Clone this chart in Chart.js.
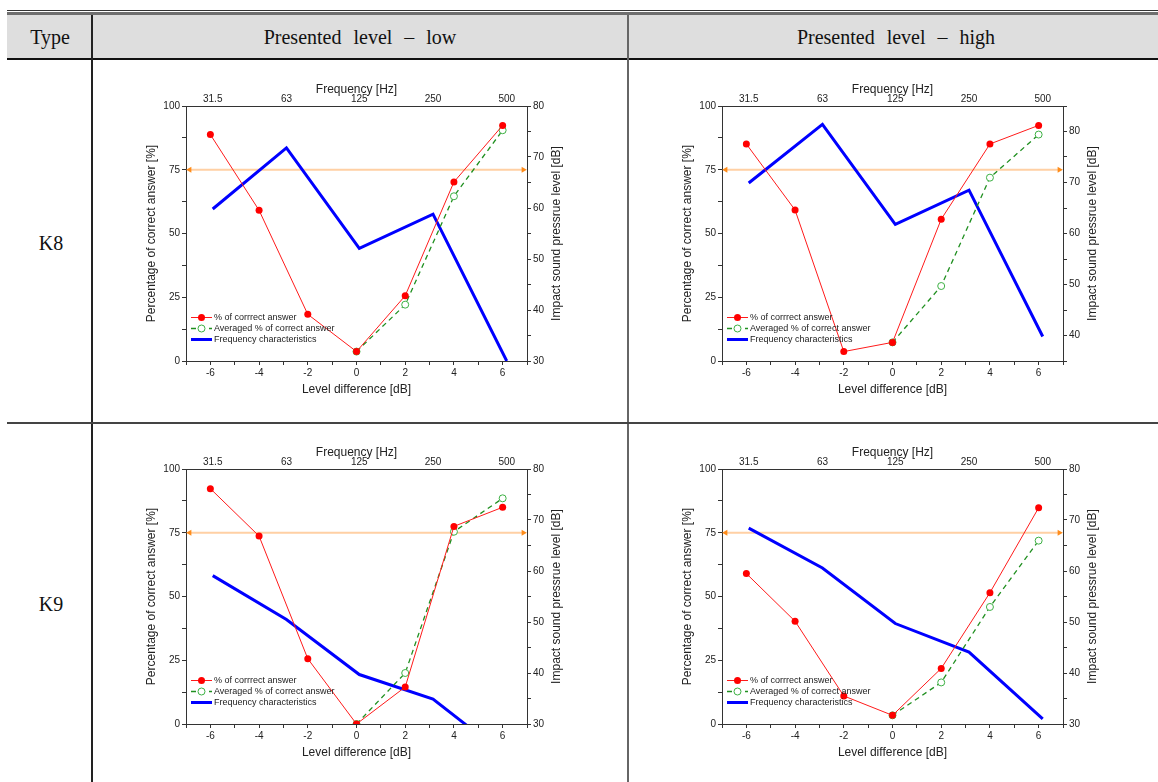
<!DOCTYPE html>
<html><head><meta charset="utf-8">
<script src="https://cdn.jsdelivr.net/npm/chart.js@4.4.0/dist/chart.umd.min.js"></script>
<style>
html,body{margin:0;padding:0;background:#fff;width:1158px;height:782px;overflow:hidden;position:relative;}
.ln{position:absolute;}
.txt{position:absolute;font-family:"Liberation Serif",serif;font-size:20px;color:#111;transform:translate(-50%,-50%);white-space:nowrap;word-spacing:7px;}
canvas{position:absolute;}
</style></head><body>
<div class="ln" style="left:7px;top:10px;width:1151px;height:1px;background:#333"></div>
<div class="ln" style="left:7px;top:12px;width:1151px;height:3px;background:#6e6e6e"></div>
<div class="ln" style="left:7px;top:15px;width:1151px;height:44px;background:#dedede"></div>
<div class="ln" style="left:7px;top:58px;width:1151px;height:2px;background:#111"></div>
<div class="ln" style="left:91px;top:15px;width:2px;height:767px;background:#222"></div>
<div class="ln" style="left:627px;top:15px;width:2px;height:767px;background:#666"></div>
<div class="ln" style="left:7px;top:422px;width:1151px;height:1.5px;background:#444"></div>

<div class="txt" style="left:50px;top:37px">Type</div>
<div class="txt" style="left:360px;top:37px">Presented level – low</div>
<div class="txt" style="left:896px;top:37px">Presented level – high</div>
<div class="txt" style="left:51px;top:243px">K8</div>
<div class="txt" style="left:51px;top:604px">K9</div>

<canvas id="c1" width="425" height="319" style="left:140px;top:80px"></canvas>
<canvas id="c2" width="425" height="319" style="left:676px;top:80px"></canvas>
<canvas id="c3" width="425" height="319" style="left:140px;top:443px"></canvas>
<canvas id="c4" width="425" height="319" style="left:676px;top:443px"></canvas>

<script>
// ---- data ----
const levelDiff = [-6, -4, -2, 0, 2, 4, 6];
const avgLevelDiff = [0, 2, 4, 6];
const freqHz = [31.5, 63, 125, 250, 500];
const freqTickLabels = ['31.5', '63', '125', '250', '500'];
const refLevel = 75;
const refX = [-6.85, 6.85];

const k8LowCorrect  = [88.8, 59.1, 18.3, 3.7, 25.6, 70.2, 92.4];
const k8LowAveraged = [3.7, 22.1, 64.6, 90.5];
const k8LowSPL      = [59.8, 71.8, 52.1, 58.8, 30.0];

const k8HighCorrect  = [85.1, 59.2, 3.7, 7.3, 55.6, 85.1, 92.4];
const k8HighAveraged = [7.3, 29.4, 71.9, 88.8];
const k8HighSPL      = [69.9, 81.4, 61.8, 68.5, 39.8];

const k9LowCorrect  = [92.3, 73.7, 25.6, 0, 14.5, 77.5, 85.0];
const k9LowAveraged = [0, 20.0, 75.4, 88.5];
const k9LowSPL      = [59.1, 50.5, 39.7, 34.9, 23.6];

const k9HighCorrect  = [59.0, 40.3, 11.0, 3.4, 21.8, 51.5, 84.8];
const k9HighAveraged = [3.4, 16.3, 45.9, 71.9];
const k9HighSPL      = [68.4, 60.6, 49.7, 44.1, 31.0];

const splRangeStd = [30, 80];
const splRangeK8High = [35, 85];

// ---- helpers ----
const SANS = '"Liberation Sans", Arial, sans-serif';
const AX = '#333';

const insideLegend = {
  id: 'insideLegend',
  afterDatasetsDraw(chart) {
    const {ctx, chartArea: a} = chart;
    const items = chart.data.datasets.filter(d => d.inLegend);
    ctx.save();
    ctx.font = '9px ' + SANS;
    ctx.textBaseline = 'middle';
    items.forEach((d, i) => {
      const y = a.bottom - 43.5 + i * 11;
      const x0 = a.left + 5, x1 = a.left + 26;
      ctx.strokeStyle = d.borderColor;
      ctx.lineWidth = d.borderWidth;
      ctx.setLineDash(d.borderDash || []);
      ctx.beginPath(); ctx.moveTo(x0, y); ctx.lineTo(x1, y); ctx.stroke();
      ctx.setLineDash([]);
      if (d.pointRadius > 0) {
        ctx.beginPath();
        ctx.arc((x0 + x1) / 2, y, d.pointRadius, 0, Math.PI * 2);
        ctx.fillStyle = d.pointBackgroundColor; ctx.fill();
        if (d.pointBorderWidth) { ctx.strokeStyle = d.pointBorderColor; ctx.lineWidth = d.pointBorderWidth; ctx.stroke(); }
      }
      ctx.fillStyle = '#222';
      ctx.fillText(d.label, a.left + 28, y);
    });
    ctx.restore();
  },
  afterDraw(chart) {
    const s = chart.scales.yR;
    const {ctx, chartArea: a} = chart;
    ctx.save();
    ctx.font = '12px ' + SANS;
    ctx.fillStyle = '#222';
    ctx.textAlign = 'center';
    ctx.textBaseline = 'middle';
    ctx.translate(s.right - 8, (a.top + a.bottom) / 2);
    ctx.rotate(-Math.PI / 2);
    ctx.fillText('Impact sound pressrue level [dB]', 0, 0);
    ctx.restore();
  }
};

function makeChart(id, correct, averaged, spl, splRange) {
  new Chart(document.getElementById(id), {
    type: 'line',
    data: {
      datasets: [
        {
          label: '% of corrrect answer', inLegend: true,
          data: levelDiff.map((x, i) => ({x, y: correct[i]})),
          xAxisID: 'x', yAxisID: 'y',
          borderColor: '#ff1a1a', backgroundColor: '#ff0000', borderWidth: 1,
          pointRadius: 3.5, pointBackgroundColor: '#ff0000', pointBorderColor: '#ff0000', pointBorderWidth: 0,
          order: 1
        },
        {
          label: 'Averaged % of correct answer', inLegend: true,
          data: avgLevelDiff.map((x, i) => ({x, y: averaged[i]})),
          xAxisID: 'x', yAxisID: 'y',
          borderColor: '#1f8f1f', borderWidth: 1.3, borderDash: [5, 4],
          pointRadius: 3.5, pointBackgroundColor: '#ffffff', pointBorderColor: '#3cb043', pointBorderWidth: 1,
          order: 2
        },
        {
          label: 'Frequency characteristics', inLegend: true,
          data: freqHz.map((f, i) => ({x: f, y: spl[i]})),
          xAxisID: 'xTop', yAxisID: 'yR',
          borderColor: '#0000ff', borderWidth: 3, pointRadius: 0, clip: 0,
          order: 3
        },
        {
          label: 'criterion',
          data: refX.map(x => ({x, y: refLevel})),
          xAxisID: 'x', yAxisID: 'y',
          borderColor: 'rgba(255,170,90,0.55)', borderWidth: 2,
          pointStyle: 'triangle', pointRotation: [270, 90], pointRadius: 3.5,
          pointBackgroundColor: '#ff8c1a', pointBorderColor: '#ff8c1a', pointBorderWidth: 0,
          clip: false, order: 5
        }
      ]
    },
    options: {
      responsive: false, animation: false,
      layout: {padding: 0},
      plugins: {legend: {display: false}, tooltip: {enabled: false}},
      scales: {
        x: {
          type: 'linear', position: 'bottom', min: -7, max: 7,
          ticks: {stepSize: 1, autoSkip: false, maxRotation: 0, padding: 2,
                  callback: v => (v % 2 === 0 ? String(v) : ''),
                  font: {family: SANS, size: 10}, color: '#222'},
          grid: {drawOnChartArea: false, drawTicks: true, tickLength: 4, color: AX},
          border: {display: true, color: AX, width: 1},
          title: {display: true, text: 'Level difference [dB]', font: {family: SANS, size: 12}, color: '#222', padding: {top: 0, bottom: 2}},
          afterFit: s => { s.height = 38; }
        },
        xTop: {
          type: 'logarithmic', position: 'top', min: 24.5, max: 605,
          afterBuildTicks: s => { s.ticks = freqHz.map(v => ({value: v})); },
          ticks: {autoSkip: false, maxRotation: 0, padding: 1,
                  callback: (v, i) => freqTickLabels[i],
                  font: {family: SANS, size: 10}, color: '#222'},
          grid: {drawOnChartArea: false, drawTicks: false},
          border: {display: true, color: AX, width: 1},
          title: {display: true, text: 'Frequency [Hz]', font: {family: SANS, size: 12}, color: '#222', padding: {top: 2, bottom: 0}},
          afterFit: s => { s.height = 26; }
        },
        y: {
          type: 'linear', position: 'left', min: 0, max: 100,
          ticks: {stepSize: 12.5, autoSkip: false, padding: 2,
                  callback: v => (v % 25 === 0 ? String(v) : ''),
                  font: {family: SANS, size: 10}, color: '#222'},
          grid: {drawOnChartArea: false, drawTicks: true, tickLength: 4, color: AX},
          border: {display: true, color: AX, width: 1},
          title: {display: true, text: 'Percentage of correct answer [%]', font: {family: SANS, size: 12}, color: '#222', padding: {top: 4, bottom: 0}},
          afterFit: s => { s.width = 46; }
        },
        yR: {
          type: 'linear', position: 'right', min: splRange[0], max: splRange[1],
          ticks: {stepSize: 5, autoSkip: false, padding: 2,
                  callback: v => (v % 10 === 0 ? String(v) : ''),
                  font: {family: SANS, size: 10}, color: '#222'},
          grid: {drawOnChartArea: false, drawTicks: true, tickLength: 4, color: AX},
          border: {display: true, color: AX, width: 1},
          title: {display: false},
          afterFit: s => { s.width = 38; }
        }
      }
    },
    plugins: [insideLegend]
  });
}

makeChart('c1', k8LowCorrect, k8LowAveraged, k8LowSPL, splRangeStd);
makeChart('c2', k8HighCorrect, k8HighAveraged, k8HighSPL, splRangeK8High);
makeChart('c3', k9LowCorrect, k9LowAveraged, k9LowSPL, splRangeStd);
makeChart('c4', k9HighCorrect, k9HighAveraged, k9HighSPL, splRangeStd);
</script>
</body></html>
